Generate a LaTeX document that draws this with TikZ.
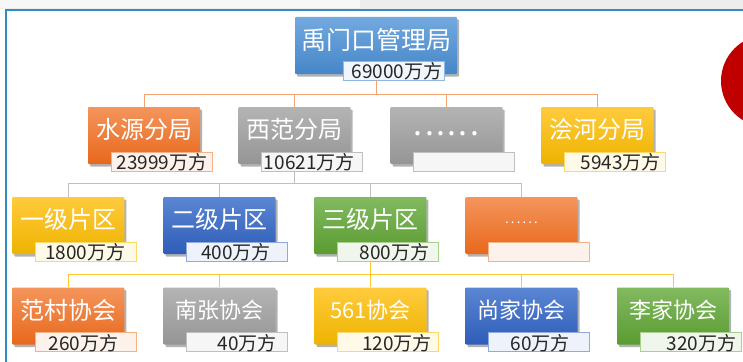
\documentclass[tikz,border=0pt]{standalone}
\usepackage{fontspec}
\newfontfamily\cjk{Noto Sans CJK SC}
\usetikzlibrary{shadows,calc}
\definecolor{bT}{HTML}{72A9DF}\definecolor{bB}{HTML}{4686C8}\definecolor{bL}{HTML}{8FB8E4}\definecolor{bF}{HTML}{F0F6FC}
\definecolor{oT}{HTML}{F4955C}\definecolor{oB}{HTML}{E8681C}\definecolor{oL}{HTML}{F4B183}\definecolor{oF}{HTML}{FDF2EB}
\definecolor{gT}{HTML}{B4B4B4}\definecolor{gB}{HTML}{959595}\definecolor{gL}{HTML}{BFBFBF}\definecolor{gF}{HTML}{F6F6F6}
\definecolor{yT}{HTML}{FFCB3D}\definecolor{yB}{HTML}{EEB300}\definecolor{yL}{HTML}{FFD966}\definecolor{yF}{HTML}{FFF9E8}
\definecolor{dT}{HTML}{5B86D3}\definecolor{dB}{HTML}{2E5DB8}\definecolor{dL}{HTML}{8FAADC}\definecolor{dF}{HTML}{EEF2FB}
\definecolor{nT}{HTML}{82BA60}\definecolor{nB}{HTML}{5A9B31}\definecolor{nL}{HTML}{A9D18E}\definecolor{nF}{HTML}{F0F6EC}
\definecolor{conO}{HTML}{F4A46E}\definecolor{conG}{HTML}{BFBFBF}\definecolor{conY}{HTML}{FFC82E}
\definecolor{frameblue}{HTML}{2F8DC4}\definecolor{txtdark}{HTML}{262626}\definecolor{bigred}{HTML}{C00000}
\begin{document}
\begin{tikzpicture}[x=1pt,y=-1pt,
  box/.style={rectangle, minimum width=112pt, minimum height=57pt, inner sep=0pt, rounded corners=0.8pt,
    drop shadow={shadow xshift=2pt, shadow yshift=-2.5pt, opacity=0.3, fill=black}},
  bbox/.style={box, top color=bT, bottom color=bB},
  obox/.style={box, top color=oT, bottom color=oB},
  gbox/.style={box, top color=gT, bottom color=gB},
  ybox/.style={box, top color=yT, bottom color=yB},
  dbox/.style={box, top color=dT, bottom color=dB},
  nbox/.style={box, top color=nT, bottom color=nB},
  lab/.style={rectangle, minimum width=101pt, minimum height=19pt, inner sep=0pt, line width=0.8pt},
  blab/.style={lab, draw=bL, fill=bF},
  olab/.style={lab, draw=oL, fill=oF},
  glab/.style={lab, draw=gL, fill=gF},
  ylab/.style={lab, draw=yL, fill=yF},
  dlab/.style={lab, draw=dL, fill=dF},
  nlab/.style={lab, draw=nL, fill=nF},
  bt/.style={text=white, inner sep=0pt, font=\cjk\fontsize{24}{24}\selectfont},
  btsmall/.style={bt, font=\cjk\fontsize{22}{22}\selectfont},
  lt/.style={text=txtdark, inner sep=0pt, anchor=east, font=\cjk\fontsize{19}{19}\selectfont},
  con/.style={line width=0.9pt}
]
\useasboundingbox (0,0) rectangle (743,361);
\clip (0,0) rectangle (743,361);
\fill[white] (0,0) rectangle (743,361);
\fill[black!7] (0,0) rectangle (743,9);
\fill[black!3] (0,0) rectangle (360,8);
\draw[frameblue, line width=2pt] (6,380) -- (6,10) -- (760,10);
\fill[bigred] (767,81) circle (46pt);

% connectors
\coordinate (jA) at (376,94);
\coordinate (jB) at (294.5,183.5);
\coordinate (jC) at (370.3,274);

% level 1
\node[bbox, minimum width=162pt] (b0) at (376,45.5) {};
\node[bt, font=\cjk\fontsize{25}{25}\selectfont] (t0) at ($(b0.north)+(0,23)$) {禹门口管理局};
\node[blab] (l0) at (393.5,70.5) {};
\node[lt] (v0) at ($(l0.east)+(-2,1)$) {69000万方};

% level 2
\node[obox] (b1) at (144,135.5) {};
\node[gbox] (b2) at (294.5,135.5) {};
\node[gbox] (b3) at (446.5,135.5) {};
\node[ybox] (b4) at (597.5,135.5) {};
\node[bt] (t1) at ($(b1.north)+(0,23)$) {水源分局};
\node[bt] (t2) at ($(b2.north)+(0,23)$) {西范分局};
\node[bt, font=\cjk\fontsize{32}{32}\selectfont] (t3) at ($(b3.north)+(0,26.5)$) {.\hspace{2.4pt}.\hspace{2.4pt}.\hspace{2.4pt}.\hspace{2.4pt}.\hspace{2.4pt}.};
\node[bt] (t4) at ($(b4.north)+(0,23)$) {浍河分局};
\node[olab] (l1) at ($(b1.center)+(17.5,26)$) {};
\node[glab] (l2) at ($(b2.center)+(17.5,26)$) {};
\node[glab] (l3) at ($(b3.center)+(17.5,26)$) {};
\node[ylab] (l4) at ($(b4.center)+(17.5,26)$) {};
\node[lt] (v1) at ($(l1.east)+(-5,1)$) {23999万方};
\node[lt] (v2) at ($(l2.east)+(-8,1)$) {10621万方};
\node[lt] (v4) at ($(l4.east)+(-5,1)$) {5943万方};

% level 3
\node[ybox] (c1) at (68.3,225.5) {};
\node[dbox] (c2) at (219.5,225.5) {};
\node[nbox] (c3) at (370.3,225.5) {};
\node[obox] (c4) at (521.5,225.5) {};
\node[bt] (s1) at ($(c1.north)+(0,23)$) {一级片区};
\node[bt] (s2) at ($(c2.north)+(0,23)$) {二级片区};
\node[bt] (s3) at ($(c3.north)+(0,23)$) {三级片区};
\node[bt, font=\cjk\fontsize{13}{13}\selectfont] (s4) at ($(c4.north)+(0,25.7)$) {.\hspace{2.2pt}.\hspace{2.2pt}.\hspace{2.2pt}.\hspace{2.2pt}.\hspace{2.2pt}.};
\node[ylab] (m1) at ($(c1.center)+(17.5,26)$) {};
\node[dlab] (m2) at ($(c2.center)+(17.5,26)$) {};
\node[nlab] (m3) at ($(c3.center)+(17.5,26)$) {};
\node[olab] (m4) at ($(c4.center)+(17.5,26)$) {};
\node[lt] (w1) at ($(m1.east)+(-11,1)$) {1800万方};
\node[lt] (w2) at ($(m2.east)+(-17,1)$) {400万方};
\node[lt] (w3) at ($(m3.east)+(-9,1)$) {800万方};

% level 4
\node[obox] (d1) at (68.3,316) {};
\node[gbox] (d2) at (219.5,316) {};
\node[ybox] (d3) at (370.5,316) {};
\node[dbox] (d4) at (521.5,316) {};
\node[nbox] (d5) at (673,316) {};
\node[bt] (u1) at ($(d1.north)+(0,23)$) {范村协会};
\node[btsmall] (u2) at ($(d2.north)+(0,23)$) {南张协会};
\node[btsmall] (u3) at ($(d3.north)+(0,23)$) {561协会};
\node[btsmall] (u4) at ($(d4.north)+(0,23)$) {尚家协会};
\node[btsmall] (u5) at ($(d5.north)+(0,23)$) {李家协会};
\node[olab] (n1) at ($(d1.center)+(17.5,26)$) {};
\node[glab] (n2) at ($(d2.center)+(17.5,26)$) {};
\node[ylab] (n3) at ($(d3.center)+(17.5,26)$) {};
\node[dlab] (n4) at ($(d4.center)+(17.5,26)$) {};
\node[nlab] (n5) at ($(d5.center)+(17.5,26)$) {};
\node[lt] (z1) at ($(n1.east)+(-18,1)$) {260万方};
\node[lt] (z2) at ($(n2.east)+(-11,1)$) {40万方};
\node[lt] (z3) at ($(n3.east)+(-7,1)$) {120万方};
\node[lt] (z4) at ($(n4.east)+(-20,1)$) {60万方};
\node[lt] (z5) at ($(n5.east)+(-5,1)$) {320万方};

\draw[con, conO] (b0.center |- l0.south) -- (jA);
\draw[con, conO] (b1.north |- jA) -- (b4.north |- jA);
\foreach \i in {1,...,4} {\draw[con, conO] (b\i.north |- jA) -- (b\i.north);}
\draw[con, conG] (b2.center |- l2.south) -- (jB);
\draw[con, conG] (c1.north |- jB) -- (c4.north |- jB);
\foreach \i in {1,...,4} {\draw[con, conG] (c\i.north |- jB) -- (c\i.north);}
\draw[con, conY] (c3.center |- m3.south) -- (jC);
\draw[con, conY] (d1.north |- jC) -- (d5.north |- jC);
\foreach \i in {1,...,5} {\draw[con, conY] (d\i.north |- jC) -- (d\i.north);}
\end{tikzpicture}
\end{document}
